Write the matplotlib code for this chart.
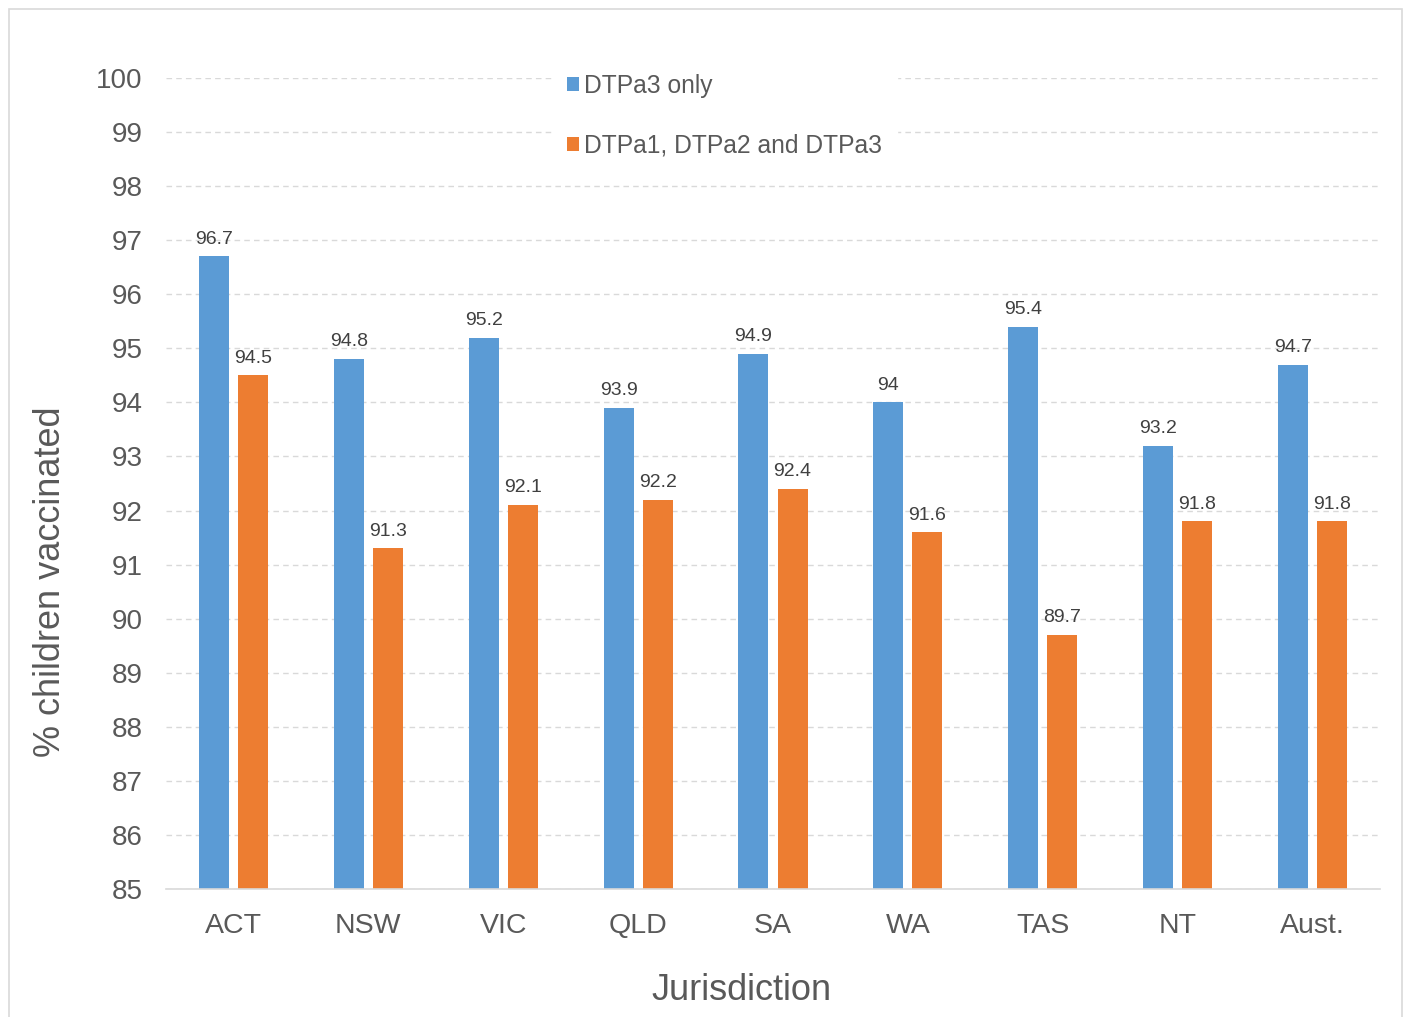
import numpy as np
import matplotlib.pyplot as plt
from matplotlib.patches import Rectangle

jurisdictions = ['ACT', 'NSW', 'VIC', 'QLD', 'SA', 'WA', 'TAS', 'NT', 'Aust.']
dtpa3_only = [96.7, 94.8, 95.2, 93.9, 94.9, 94.0, 95.4, 93.2, 94.7]
dtpa123 = [94.5, 91.3, 92.1, 92.2, 92.4, 91.6, 89.7, 91.8, 91.8]
label_1 = ['96.7', '94.8', '95.2', '93.9', '94.9', '94', '95.4', '93.2', '94.7']
label_2 = ['94.5', '91.3', '92.1', '92.2', '92.4', '91.6', '89.7', '91.8', '91.8']

blue = '#5B9BD5'
orange = '#ED7D31'
txt = '#595959'
plt.rcParams['font.family'] = ['Liberation Sans', 'DejaVu Sans']

fig = plt.figure(figsize=(14.08, 10.17), dpi=100)
ax = fig.add_axes([166 / 1408, 1 - 889 / 1017, (1380 - 166) / 1408, (889 - 78) / 1017])

# outer chart border
fig.patches.append(Rectangle((9 / 1408, -0.01), 1393 / 1408, 1 - 9 / 1017 + 0.01,
                             transform=fig.transFigure, fill=False,
                             edgecolor='#D9D9D9', linewidth=1.2))

x = np.arange(len(jurisdictions))
w = 0.222
off = 0.145
b1 = ax.bar(x - off, [v - 85 for v in dtpa3_only], w, bottom=85, color=blue, label='DTPa3 only', zorder=3)
b2 = ax.bar(x + off, [v - 85 for v in dtpa123], w, bottom=85, color=orange, label='DTPa1, DTPa2 and DTPa3', zorder=3)

for bars, labels in [(b1, label_1), (b2, label_2)]:
    for bar, lab in zip(bars, labels):
        ax.text(bar.get_x() + bar.get_width() / 2, bar.get_y() + bar.get_height() + 0.16, lab,
                ha='center', va='bottom', fontsize=14, color='#404040')

ax.set_xlim(-0.5, len(jurisdictions) - 0.5)
ax.set_ylim(85, 100)
ax.set_yticks(range(85, 101))
ax.set_xticks(x)
ax.set_xticklabels(jurisdictions)
ax.tick_params(axis='y', length=0, labelsize=20, colors=txt, pad=17)
ax.tick_params(axis='x', length=0, labelsize=20.5, colors=txt, pad=17)
ax.yaxis.grid(True, linestyle=(0, (4, 3)), color='#D9D9D9', linewidth=1, zorder=0)
for s in ['top', 'right', 'left']:
    ax.spines[s].set_visible(False)
ax.spines['bottom'].set_color('#D9D9D9')
ax.spines['bottom'].set_linewidth(1.2)
ax.spines['bottom'].set_zorder(4)

ax.set_ylabel('% children vaccinated', fontsize=26, color=txt)
ax.yaxis.set_label_coords(50 / 1408, 1 - 582 / 1017, transform=fig.transFigure)
ax.set_xlabel('Jurisdiction', fontsize=26, color=txt)
ax.xaxis.set_label_coords(741 / 1408, 1 - 991 / 1017, transform=fig.transFigure)
ax.xaxis.label.set_va('center')
ax.yaxis.label.set_va('center')

leg = ax.legend(loc='upper left', bbox_to_anchor=(540 / 1408, 1 - 47 / 1017),
                bbox_transform=fig.transFigure, frameon=True, fancybox=False,
                edgecolor='white', facecolor='white', framealpha=1,
                fontsize=17.7, handlelength=0.5, handleheight=0.5, handletextpad=0.2,
                labelspacing=1.45, borderpad=0.6)
leg.set_zorder(5)
for t in leg.get_texts():
    t.set_color(txt)

fig.savefig('out.png', dpi=100)
